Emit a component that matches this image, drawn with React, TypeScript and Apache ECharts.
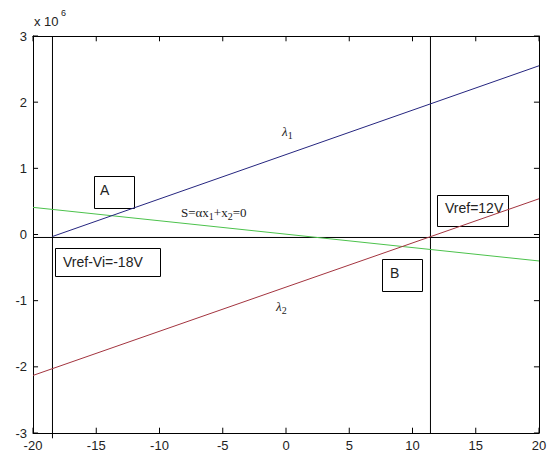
import React, { useEffect, useRef } from "react";
import * as echarts from "echarts";

// x range and tick settings (values on y are in units of 10^6)
const xTicks = { min: -20, max: 20, interval: 5 };
const yTicks = { min: -3, max: 3, interval: 1 };
const xTickValues = [-20, -15, -10, -5, 0, 5, 10, 15, 20];
const yTickValues = [-3, -2, -1, 0, 1, 2, 3];

// λ1 line endpoints [x, y]
const lambda1 = [
  [-18.46, -0.03],
  [20, 2.55],
];
// λ2 line endpoints
const lambda2 = [
  [-20, -2.13],
  [20, 0.54],
];
// switching line S = αx1 + x2 = 0
const switchLine = [
  [-20, 0.41],
  [20, -0.4],
];
// horizontal reference line near zero (runs past the right edge)
const zeroLine = [
  [-20, -0.045],
  [21.1, -0.045],
];
// vertical markers: Vref-Vi = -18V and Vref = 12V
const vLeft = [
  [-18.46, 3],
  [-18.46, -3.08],
];
const vRight = [
  [11.42, 3],
  [11.42, -3],
];

const FONT = "Liberation Sans, Arial, sans-serif";
const SERIF = "Liberation Serif, Times New Roman, serif";

// tick length expressed in axis units (about 5px on each axis)
const TICK_DY = 0.08;
const TICK_DX = 0.4;

// inward tick segments on all four edges, separated by gaps
function buildTickSegments() {
  const segs: any[] = [];
  for (const x of xTickValues) {
    segs.push([x, yTicks.min], [x, yTicks.min + TICK_DY], null);
    segs.push([x, yTicks.max], [x, yTicks.max - TICK_DY], null);
  }
  for (const y of yTickValues) {
    segs.push([xTicks.min, y], [xTicks.min + TICK_DX, y], null);
    segs.push([xTicks.max, y], [xTicks.max - TICK_DX, y], null);
  }
  return segs;
}

export default function App() {
  const ref = useRef<HTMLDivElement>(null);

  useEffect(() => {
    if (!ref.current) return;
    const chart = echarts.init(ref.current, null, { renderer: "svg" });

    const labelStyle = { color: "#222", fontSize: 13, fontFamily: FONT };
    const axisLine = { show: true, onZero: false, lineStyle: { color: "#000" } };

    const lineSeries = (data: any[], color: string, z = 2) => ({
      type: "line",
      data,
      symbol: "none",
      clip: false,
      connectNulls: false,
      z,
      lineStyle: { color, width: 1 },
      silent: true,
    });

    const boxStyle = { fill: "rgba(255,255,255,0)", stroke: "#000", lineWidth: 1 };
    const subRich = {
      s: { fontSize: 10, fontFamily: SERIF, fill: "#222", padding: [7, 0, 0, 0] },
    };

    chart.setOption({
      animation: false,
      backgroundColor: "#fff",
      grid: { left: 33, top: 36, width: 506, height: 397 },
      xAxis: [
        {
          type: "value",
          ...xTicks,
          axisLine,
          axisTick: { show: false },
          splitLine: { show: false },
          axisLabel: { ...labelStyle, margin: 6 },
        },
        {
          type: "value",
          position: "top",
          ...xTicks,
          axisLine,
          axisTick: { show: false },
          splitLine: { show: false },
          axisLabel: { show: false },
        },
      ],
      yAxis: [
        {
          type: "value",
          ...yTicks,
          axisLine,
          axisTick: { show: false },
          splitLine: { show: false },
          axisLabel: { ...labelStyle, margin: 6 },
        },
        {
          type: "value",
          position: "right",
          ...yTicks,
          axisLine,
          axisTick: { show: false },
          splitLine: { show: false },
          axisLabel: { show: false },
        },
      ],
      series: [
        lineSeries(zeroLine, "#000", 1),
        lineSeries(vLeft, "#000", 1),
        lineSeries(vRight, "#000", 1),
        lineSeries(switchLine, "#4cc24c"),
        lineSeries(lambda1, "#25257f"),
        lineSeries(lambda2, "#a3343f"),
        lineSeries(buildTickSegments(), "#000", 3),
      ],
      graphic: [
        {
          type: "text",
          left: 34,
          top: 15,
          style: { text: "x 10", fontSize: 13, fontFamily: FONT, fill: "#222" },
        },
        {
          type: "text",
          left: 61,
          top: 8,
          style: { text: "6", fontSize: 9, fontFamily: FONT, fill: "#222" },
        },
        // A
        { type: "rect", shape: { x: 94.5, y: 176.5, width: 40, height: 32 }, style: boxStyle },
        {
          type: "text",
          left: 100,
          top: 183,
          style: { text: "A", fontSize: 14, fontFamily: FONT, fill: "#222" },
        },
        // Vref-Vi=-18V
        { type: "rect", shape: { x: 55.5, y: 248.5, width: 105, height: 28 }, style: boxStyle },
        {
          type: "text",
          left: 63,
          top: 255,
          style: { text: "Vref-Vi=-18V", fontSize: 14, fontFamily: FONT, fill: "#222" },
        },
        // Vref=12V
        { type: "rect", shape: { x: 437.5, y: 195.5, width: 71, height: 31 }, style: boxStyle },
        {
          type: "text",
          left: 445,
          top: 201,
          style: { text: "Vref=12V", fontSize: 14, fontFamily: FONT, fill: "#222" },
        },
        // B
        { type: "rect", shape: { x: 382.5, y: 259.5, width: 40, height: 32 }, style: boxStyle },
        {
          type: "text",
          left: 390,
          top: 266,
          style: { text: "B", fontSize: 14, fontFamily: FONT, fill: "#222" },
        },
        // switching line label
        {
          type: "text",
          left: 181,
          top: 206,
          style: {
            text: "S=αx{s|1}+x{s|2}=0",
            fontSize: 13,
            fontFamily: SERIF,
            fill: "#222",
            rich: subRich,
          },
        },
        // λ1
        {
          type: "text",
          left: 282,
          top: 125,
          style: {
            text: "λ{s|1}",
            fontSize: 13,
            fontFamily: SERIF,
            fontStyle: "italic",
            fill: "#222",
            rich: subRich,
          },
        },
        // λ2
        {
          type: "text",
          left: 276,
          top: 300,
          style: {
            text: "λ{s|2}",
            fontSize: 13,
            fontFamily: SERIF,
            fontStyle: "italic",
            fill: "#222",
            rich: subRich,
          },
        },
      ],
    });

    return () => chart.dispose();
  }, []);

  return (
    <div
      ref={ref}
      style={{ position: "fixed", left: 0, top: 0, width: 552, height: 456, background: "#fff" }}
    />
  );
}
